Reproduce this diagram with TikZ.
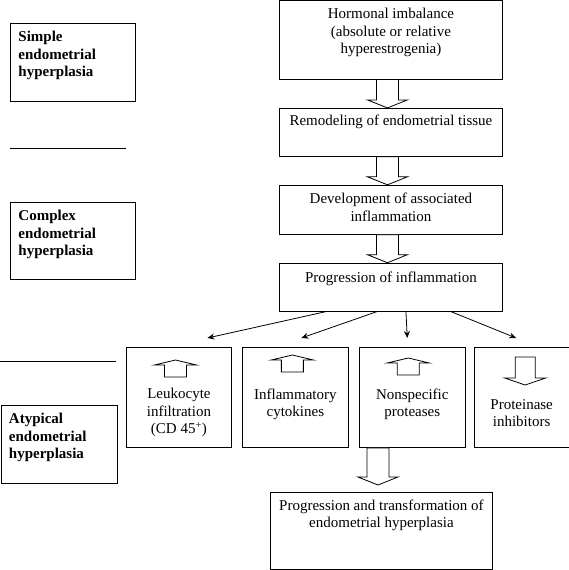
\documentclass[tikz,border=0pt]{standalone}
\usepackage{fontspec}
\setmainfont{Liberation Serif}
\usetikzlibrary{arrows.meta,calc,positioning}

% text inside a box: width, height, space above, lines
\newcommand{\midtext}[4]{\parbox[t][#2][t]{#1}{\centering\vspace*{#3}#4}}
\newcommand{\sidetext}[3]{\parbox[t][#2][t]{#1}{\raggedright\leftskip=8pt\vspace*{8pt}#3}}
% hollow block arrow from one box down to the next (optional gap before the tip)
\newcommand{\fatarrow}[3][0pt]{%
	\draw[fat] let \p1=(#2.south), \p2=([xshift=-3.5pt]#3.north) in
		(\x2-11pt,\y1) -- (\x2-11pt,\y2+#1+8pt) -- (\x2-20pt,\y2+#1+8pt) -- (\x2,\y2+#1)
		-- (\x2+20pt,\y2+#1+8pt) -- (\x2+11pt,\y2+#1+8pt) -- (\x2+11pt,\y1) -- cycle;}

\begin{document}
\begin{tikzpicture}[x=1pt,y=-1pt,% pixel-like units, y going down
			every node/.style={
				inner sep=0pt,		% the parbox gives the size of the box
				font=\fontsize{15}{17.5}\selectfont
			},
			box/.style={draw,line width=0.9pt},
			side/.style={box,font=\fontsize{15}{17.5}\selectfont\bfseries},
			fat/.style={line width=0.8pt,fill=white},
			icon/.style={line width=0.8pt},
			thin arrow/.style={draw,line width=0.8pt,-{Stealth[length=7pt,width=6pt]}},
			rule/.style={line width=0.8pt},
			upicon/.pic={\draw[icon] (0,0) -- (21,5) -- (11,5) -- (11,17) -- (-11,17) -- (-11,5) -- (-21,5) -- cycle;},
			downicon/.pic={\draw[icon] (-10,0) -- (10,0) -- (10,21) -- (20.5,21) -- (0,28) -- (-20.5,21) -- (-10,21) -- cycle;}
		]
		\useasboundingbox (0,0) rectangle (568,570);

		% main chain
		\node[box,anchor=north west](hormone) at (279,0.5){\midtext{223pt}{78pt}{7.5pt}{Hormonal imbalance\\(absolute or relative\\hyperestrogenia)}};
		\node[box](remodel)[below=28.5pt of hormone]{\midtext{223pt}{48pt}{7pt}{Remodeling of endometrial tissue}};
		\node[box](develop)[below=28pt of remodel]{\midtext{223pt}{49pt}{8pt}{Development of associated\\inflammation}};
		\node[box](progress)[below=28pt of develop]{\midtext{223pt}{48pt}{9pt}{Progression of inflammation}};

		% row of changes
		\node[box,anchor=north west](leuko) at (126,347){\midtext{105pt}{100pt}{41pt}{Leukocyte\\infiltration\\(CD 45\textsuperscript{+})}};
		\node[box](cyto)[right=10pt of leuko]{\midtext{106pt}{100pt}{41pt}{Inflammatory\\cytokines}};
		\node[box](prot)[right=10pt of cyto]{\midtext{106pt}{100pt}{41pt}{Nonspecific\\proteases}};
		\node[box](inhib)[right=8pt of prot]{\midtext{95pt}{100pt}{52pt}{Proteinase\\inhibitors}};

		\node[box,anchor=north west](final) at (270,492){\midtext{222pt}{77pt}{7pt}{Progression and transformation of\\endometrial hyperplasia}};

		% stages on the left
		\node[side,anchor=north west](simple) at (10,23){\sidetext{125pt}{78pt}{Simple\\endometrial\\hyperplasia}};
		\node[side,anchor=north west](complex) at (10,202){\sidetext{125pt}{77pt}{Complex\\endometrial\\hyperplasia}};
		\node[side,anchor=north west](atypical) at (0.5,405){\sidetext{116pt}{78pt}{Atypical\\endometrial\\hyperplasia}};
		\draw[rule] (10,148) -- (126,148);
		\draw[rule] (0,361) -- (116,361);

		\fatarrow{hormone}{remodel}
		\fatarrow{remodel}{develop}
		\fatarrow{develop}{progress}
		\fatarrow[7pt]{prot}{final}

		\path
		([xshift=-65pt]progress.south) edge[thin arrow] ([xshift=28.5pt,yshift=9pt]leuko.north)
		([xshift=-14pt]progress.south) edge[thin arrow] ([xshift=6pt,yshift=9pt]cyto.north)
		([xshift=15pt]progress.south) edge[thin arrow] ([xshift=-5pt,yshift=9pt]prot.north)
		([xshift=60pt]progress.south) edge[thin arrow] ([xshift=-5.5pt,yshift=9pt]inhib.north)
		;

		% up and down marks in the boxes
		\pic at ([xshift=-3.5pt,yshift=-13pt]leuko.north) {upicon};
		\pic at ([xshift=-3pt,yshift=-8pt]cyto.north) {upicon};
		\pic at ([xshift=-4pt,yshift=-11pt]prot.north) {upicon};
		\pic at ([xshift=3.5pt,yshift=-10pt]inhib.north) {downicon};
	\end{tikzpicture}
\end{document}
